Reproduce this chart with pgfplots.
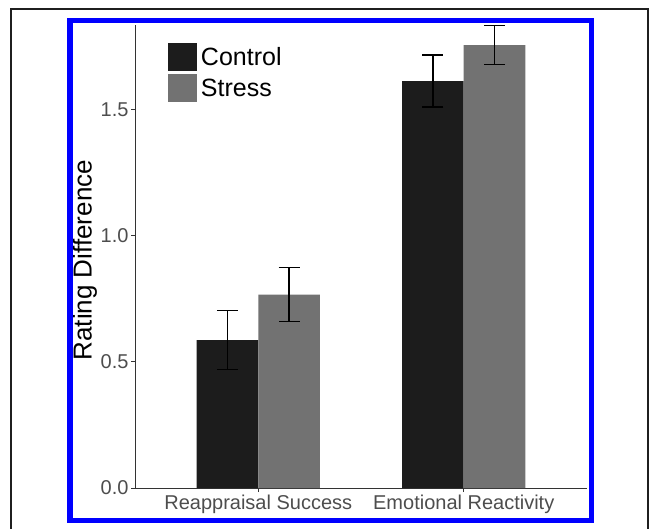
\documentclass[border=0pt]{standalone}
\usepackage{pgfplots}
\pgfplotsset{compat=1.18}
\usepackage{fontspec}
\setmainfont{Liberation Sans}
\definecolor{ctrl}{HTML}{1C1C1C}
\definecolor{strs}{HTML}{727272}
\definecolor{ticklab}{HTML}{4D4D4D}
\begin{document}
\begin{tikzpicture}[x=1pt,y=1pt]
\path[use as bounding box] (0,0) rectangle (650,-529);
\draw[line width=2pt,color=black!88] (11,-535) -- (11,-9) -- (648,-9) -- (648,-535);
\begin{axis}[
  at={(135pt,-488pt)}, anchor=origin,
  scale only axis, width=452pt, height=463pt,
  xmin=0.4, xmax=2.6, ymin=0, ymax=1.834,
  axis x line*=bottom, axis y line*=left,
  axis line style={line width=0.9pt, color=black!80},
  tick align=outside, major tick length=4pt,
  tick style={line width=0.9pt, color=black!80},
  xtick={1,2}, xticklabels={Reappraisal Success, Emotional Reactivity},
  ytick={0,0.5,1,1.5},
  yticklabel style={xshift=1pt, /pgf/number format/fixed, /pgf/number format/fixed zerofill, /pgf/number format/precision=1},
  /pgf/number format/assume math mode=true,
  ticklabel style={font=\fontsize{20}{24}\selectfont, color=ticklab},
  xticklabel style={yshift=1pt},
  ylabel={Rating Difference},
  ylabel style={at={(axis description cs:-0.111,0.492)}, anchor=center, font=\fontsize{26}{30}\selectfont},
  ybar=0pt, bar width=61.6pt,
  clip=false,
  legend style={draw=none, fill=none, at={(axis description cs:0.073,0.961)}, anchor=north west,
    inner sep=0pt, outer sep=0pt, row sep=3pt, column sep=4pt,
    font=\fontsize{25}{28}\selectfont,
    nodes={inner sep=0pt, outer sep=0pt, anchor=west}},
  legend cell align=left,
  legend image code/.code={\fill[#1] (0pt,-14pt) rectangle (29pt,14pt);},
  error bars/y dir=both, error bars/y explicit,
  error bars/error bar style={line width=1.2pt, color=black},
  error bars/error mark options={rotate=90, mark size=10.5pt, line width=1.2pt, color=black},
]
\addplot[fill=ctrl, draw=none] coordinates {
  (1,0.586) +- (0,0.117)
  (2,1.612) +- (0,0.103)
};
\addplot[fill=strs, draw=none] coordinates {
  (1,0.766) +- (0,0.106)
  (2,1.754) +- (0,0.078)
};
\legend{Control, Stress}
\end{axis}
\draw[line width=5.5pt, color=blue] (70,-20.5) rectangle (591.5,-520.5);
\end{tikzpicture}
\end{document}
